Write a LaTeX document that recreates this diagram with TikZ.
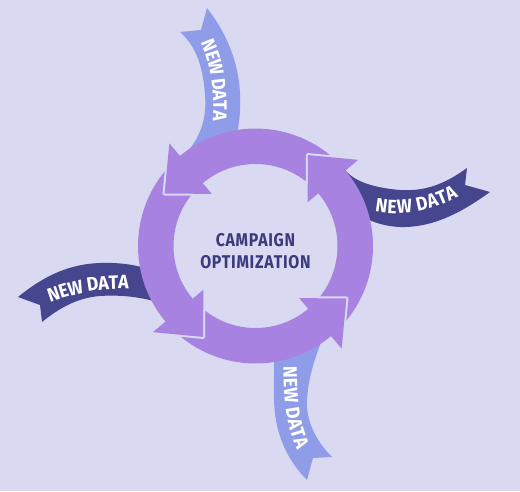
\documentclass[tikz,border=0pt]{standalone}
\usepackage{fontspec}
\usepackage{tikz}
\usetikzlibrary{decorations.text}
\newfontfamily\ribbonfont{Fira Sans}[FakeStretch=0.92]
\newfontfamily\goalfont{Fira Sans}[FakeStretch=0.86, LetterSpace=4]
\definecolor{pagebg}{RGB}{217,217,241}
\definecolor{cyclepurple}{RGB}{168,130,224}
\definecolor{datalight}{RGB}{143,157,232}
\definecolor{datadark}{RGB}{70,70,143}
\definecolor{goalnavy}{RGB}{58,58,125}

\begin{document}
\begin{tikzpicture}[
  x=0.02cm, y=0.02cm,
  ringarrow/.style={fill=cyclepurple},
  gapline/.style={draw=pagebg, line width=0.08cm, line join=round},
  lightband/.style={fill=datalight},
  darkband/.style={fill=datadark},
  bandtext/.style={decorate, decoration={text along path, text align=center, text color=white, raise=-3.8pt,
      text={|\ribbonfont\bfseries\fontsize{11}{13}\selectfont|NEW DATA}}},
  goal/.style={font=\goalfont\bfseries\fontsize{10.5}{12.5}\selectfont, text=goalnavy, align=center, inner sep=0pt}
]
  \fill[pagebg] (0,0) rectangle (520,491);
  % ribbons under the cycle
  \fill[lightband] (201,461) -- (207,483) .. controls (232,451) and (242,416) .. (240,381) .. controls (239,356) and (232,341) .. (225,331)
    -- (180,331) .. controls (200,351) and (207,371) .. (205,396) .. controls (203,426) and (195,446) .. (180,459) -- cycle;
  \fill[darkband] (343,324) .. controls (350,313) and (365,304) .. (400,301) .. controls (430,299) and (450,311) .. (467,323)
    -- (465,306) -- (490,299) .. controls (465,281) and (435,263) .. (400,264) .. controls (375,265) and (355,276) .. (338,293) -- cycle;
  \fill[darkband] (40,186) -- (18,194) .. controls (45,216) and (70,227) .. (100,228) .. controls (130,229) and (150,223) .. (165,214)
    -- (175,183) .. controls (155,191) and (130,197) .. (100,195) .. controls (75,193) and (57,181) .. (42,169) -- cycle;
  \fill[lightband] (272,156) .. controls (276,131) and (273,111) .. (274,91) .. controls (275,51) and (292,26) .. (307,11)
    -- (313,33) -- (332,34) .. controls (315,51) and (306,71) .. (307,91) .. controls (308,111) and (314,131) .. (322,151) -- cycle;

  \path[bandtext] (200,463) .. controls (216,437) and (224,400) .. (218,356);
  \path[bandtext] (365,289) .. controls (395,280) and (430,283) .. (465,306);
  \path[bandtext] (28,187) .. controls (65,203) and (110,215) .. (150,205);
  \path[bandtext] (290,141) .. controls (290,100) and (290,60) .. (312,29);

  % cycle arrows
  \begin{scope}[shift={(255.5,245)}]
    \foreach \r in {0,90,180,270}
      \fill[ringarrow, rotate=\r] (45:117.5) arc[start angle=45, end angle=132, radius=117.5] -- (132:82) arc[start angle=132, end angle=45, radius=82] -- cycle;
    \foreach \r in {0,90,180,270} {
      \draw[gapline, rotate=\r] (130:134) -- (150:105) -- (130:68);
      \fill[ringarrow, rotate=\r] (130:134) -- (150:105) -- (130:68) -- cycle;
    }
  \end{scope}

  \node[goal] (goal) at (255.5,240) {CAMPAIGN\\OPTIMIZATION};
\end{tikzpicture}
\end{document}
